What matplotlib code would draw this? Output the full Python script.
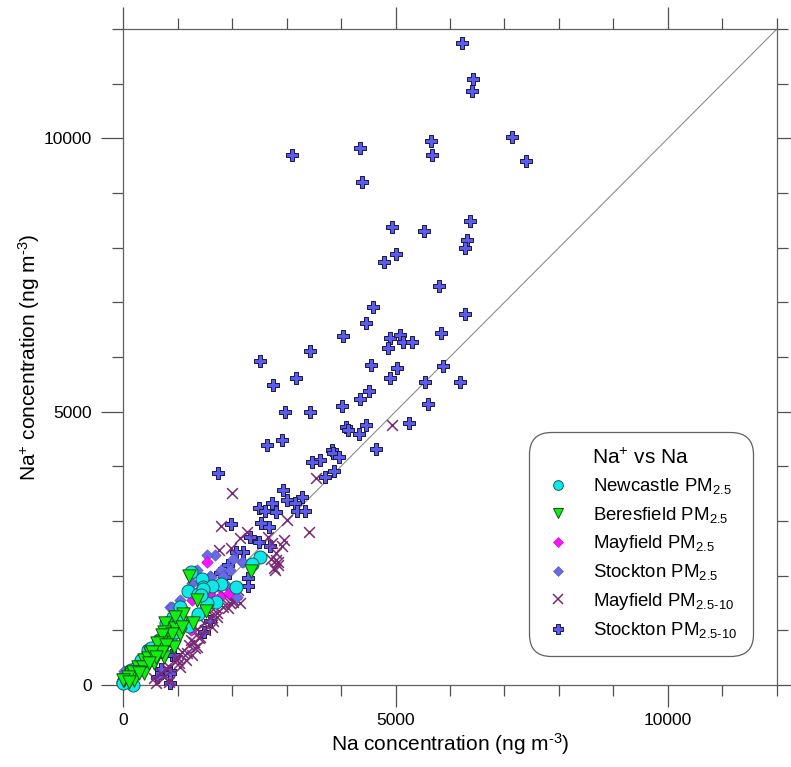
import matplotlib
matplotlib.use('Agg')
import matplotlib.pyplot as plt
from matplotlib.ticker import MultipleLocator
from matplotlib.lines import Line2D

plt.rcParams['font.family'] = ['Liberation Sans', 'DejaVu Sans']
plt.rcParams['mathtext.fontset'] = 'custom'
plt.rcParams['mathtext.rm'] = 'Liberation Sans'
plt.rcParams['mathtext.it'] = 'Liberation Sans:italic'

HY = '\u2010'  # short hyphen as in the original labels

# Stockton PM2.5-10 (Na, Na+) in ng m-3
stk10_na = [6220, 6430, 6400, 5650, 5670, 7130, 7400, 3100, 4350, 4380,
            6370, 5530, 6310, 6270, 4940, 5000, 4790, 5790, 4580, 4460,
            4030, 3430, 2520, 3180, 2750, 4550, 4900, 5090, 5130, 5310,
            4860, 5830, 6270, 5020, 4900, 5880, 5540, 6180, 4520, 4340,
            4020, 3440, 2970, 5600, 5250, 4460, 4100, 4130, 4330, 2910,
            2640, 4650, 3840, 3860, 3960, 3620, 3460, 3880, 3700, 1740,
            2940, 3010, 3290, 3160, 2730, 2490, 2610, 2810, 3190, 3340,
            1990, 2540, 2680, 2330, 2490, 2700, 2210, 2070, 2300, 2300,
            1930, 1600, 1480, 900, 690, 860, 860, 1780, 1870, 930,
            690, 870, 630]
stk10_nap = [11750, 11090, 10860, 9950, 9690, 10030, 9580, 9690, 9820, 9200,
             8490, 8300, 8130, 8000, 8380, 7880, 7740, 7300, 6920, 6620,
             6390, 6100, 5930, 5620, 5480, 5860, 6340, 6400, 6280, 6280,
             6170, 6440, 6790, 5800, 5620, 5840, 5550, 5540, 5370, 5230,
             5100, 5000, 5000, 5130, 4800, 4760, 4710, 4670, 4590, 4480,
             4390, 4310, 4300, 4250, 4170, 4120, 4080, 3920, 3800, 3870,
             3570, 3390, 3430, 3330, 3330, 3240, 3190, 3160, 3190, 3190,
             2950, 2970, 2890, 2710, 2610, 2540, 2430, 2430, 1950, 1810,
             2190, 1170, 970, 550, 270, 250, 40, 2040, 1980, 550,
             300, 210, 150]

# Mayfield PM2.5-10
may10_na = [4930, 3540, 2000, 1790, 3010, 3410, 2280, 2140, 2660, 2960,
            2910, 1760, 1980, 2800, 2810, 2770, 2840, 2740, 2110, 2010,
            1840, 1720, 1630, 1360, 1180, 990, 870, 570, 690, 1050,
            2020, 1930, 1720, 1420, 1300, 1330, 990, 1870, 2150, 2070,
            1650, 1510, 1240, 780, 1150, 1630, 1690, 1810, 1960, 1480,
            1360, 1390, 1210, 1090, 1270, 1020, 840, 750, 600, 840,
            2720, 2840, 2780]
may10_nap = [4760, 3780, 3510, 2910, 3020, 2800, 2800, 2690, 2710, 2660,
             2550, 2460, 2510, 2420, 2290, 2140, 2250, 2590, 1730, 1560,
             1420, 1250, 1060, 700, 580, 460, 90, 120, 210, 330,
             1520, 1400, 1310, 880, 790, 670, 520, 1640, 1500, 1660,
             1170, 1000, 820, 310, 460, 1280, 1430, 1580, 1490, 1130,
             1030, 850, 730, 610, 550, 400, 330, 150, 30, 60,
             2310, 2190, 2100]

# Stockton PM2.5
stk25_na = [1680, 2020, 2180, 1790, 1590, 1330, 1830, 1970, 1050, 870,
            1270, 10, 1900, 2090, 1540, 1620, 1360, 900, 2210, 1760]
stk25_nap = [2380, 2310, 2240, 2110, 1990, 2080, 1990, 2100, 1550, 1430,
             1870, 260, 1810, 1610, 2370, 1980, 2100, 1430, 2250, 1790]

# Mayfield PM2.5
may25_na = [1550, 1270, 1600, 1950, 1250, 1780, 1090]
may25_nap = [2250, 1550, 1670, 1680, 1000, 1600, 1430]

# Newcastle PM2.5
new_na = [2520, 2360, 1250, 1450, 1790, 2070, 1460, 1200, 1380, 1700,
          1550, 1050, 1380, 870, 1210, 660, 860, 0, 190, 920,
          780, 450, 330, 150, 690, 960, 1640, 1460, 1430, 1050,
          0, 510, 330, 240]
new_nap = [2340, 2210, 2060, 1940, 1840, 1790, 1790, 1720, 1670, 1510,
           1490, 1420, 1290, 1160, 1080, 830, 830, 60, 0, 1250,
           1130, 640, 430, 270, 640, 970, 1810, 1750, 1640, 1250,
           30, 680, 460, 310]

# Beresfield PM2.5
ber_na = [1220, 2340, 1530, 1110, 1290, 770, 950, 1050, 810, 680,
          500, 390, 270, 150, 750, 750, 690, 930, 570, 750,
          450, 570, 360, 270, 150, 20, 390, 210, 1350, 960,
          1090, 900, 720, 630, 780, 720, 540, 600, 480, 180,
          300, 90, 0, 110]
ber_nap = [1990, 2090, 1350, 1290, 1130, 1140, 1050, 940, 890, 700,
           580, 460, 330, 210, 760, 970, 790, 700, 610, 520,
           490, 400, 330, 240, 180, 90, 210, 90, 1550, 1250,
           1060, 940, 910, 760, 730, 610, 610, 520, 400, 240,
           210, 150, 90, 60]

fig = plt.figure(figsize=(7.91, 7.67), dpi=100)
ax = fig.add_axes([0.1555, 0.107, 0.8268, 0.8553])

ax.plot([0, 12000], [0, 12000], color='#8c8c8c', lw=0.8, zorder=1)

ax.scatter(stk10_na, stk10_nap, marker='P', s=75, c='#5b5bf0', edgecolors='#1a1a40',
           linewidths=0.7, zorder=3, clip_on=False)
ax.scatter(may10_na, may10_nap, marker='x', s=60, c='#7a2878', linewidths=1.1,
           zorder=3, clip_on=False)
ax.scatter(stk25_na, stk25_nap, marker='D', s=34, c='#6a6ae8', edgecolors='#5050c0',
           linewidths=0.4, zorder=4, clip_on=False)
ax.scatter(may25_na, may25_nap, marker='D', s=34, c='#ff10ff', edgecolors='#c000c0',
           linewidths=0.4, zorder=4, clip_on=False)
ax.scatter(new_na, new_nap, marker='o', s=88, c='#10e8e8', edgecolors='#106060',
           linewidths=0.7, zorder=5, clip_on=False)
ax.scatter(ber_na, ber_nap, marker='v', s=92, c='#10f010', edgecolors='#105010',
           linewidths=0.7, zorder=6, clip_on=False)

ax.set_xlim(0, 12000)
ax.set_ylim(0, 12000)
for a in (ax.xaxis, ax.yaxis):
    a.set_major_locator(MultipleLocator(5000))
    a.set_minor_locator(MultipleLocator(1000))

for sp in ax.spines.values():
    sp.set_color('#606060')
    sp.set_linewidth(0.9)

ax.tick_params(which='both', direction='out', top=True, right=True,
               color='#505050', width=0.9, labelsize=12.5)
ax.tick_params(which='major', length=15.5)
ax.tick_params(which='minor', length=8)
ax.tick_params(axis='x', pad=5)
ax.tick_params(axis='y', pad=7)

ax.set_xlabel('Na concentration (ng m$^{' + HY + '3}$)', fontsize=15, labelpad=2)
ax.set_ylabel('Na$^{+}$ concentration (ng m$^{' + HY + '3}$)', fontsize=15, labelpad=1)

handles = [
    Line2D([], [], ls='none', marker='o', ms=7, mfc='#10e8e8', mec='#106060', mew=0.7),
    Line2D([], [], ls='none', marker='v', ms=7, mfc='#10f010', mec='#105010', mew=0.7),
    Line2D([], [], ls='none', marker='D', ms=5, mfc='#ff10ff', mec='#c000c0', mew=0.4),
    Line2D([], [], ls='none', marker='D', ms=5, mfc='#6a6ae8', mec='#5050c0', mew=0.4),
    Line2D([], [], ls='none', marker='x', ms=7, mec='#7a2878', mew=1.1),
    Line2D([], [], ls='none', marker='P', ms=7, mfc='#5b5bf0', mec='#1a1a40', mew=0.7),
]
labels = ['Newcastle PM$_{2.5}$', 'Beresfield PM$_{2.5}$', 'Mayfield PM$_{2.5}$',
          'Stockton PM$_{2.5}$', 'Mayfield PM$_{2.5' + HY + '10}$',
          'Stockton PM$_{2.5' + HY + '10}$']
leg = ax.legend(handles, labels, title='Na$^{+}$ vs Na', loc='lower right',
                bbox_to_anchor=(0.963, 0.044), borderaxespad=0, fontsize=13.4,
                title_fontsize=15, labelspacing=0.45, handletextpad=1.1,
                borderpad=0.85, handlelength=1.5, frameon=True, fancybox=True)
fr = leg.get_frame()
fr.set_edgecolor('#606060')
fr.set_linewidth(0.9)
fr.set_boxstyle('round,pad=0,rounding_size=1.2')
fr.set_alpha(1)

fig.savefig('out.png', dpi=100)
